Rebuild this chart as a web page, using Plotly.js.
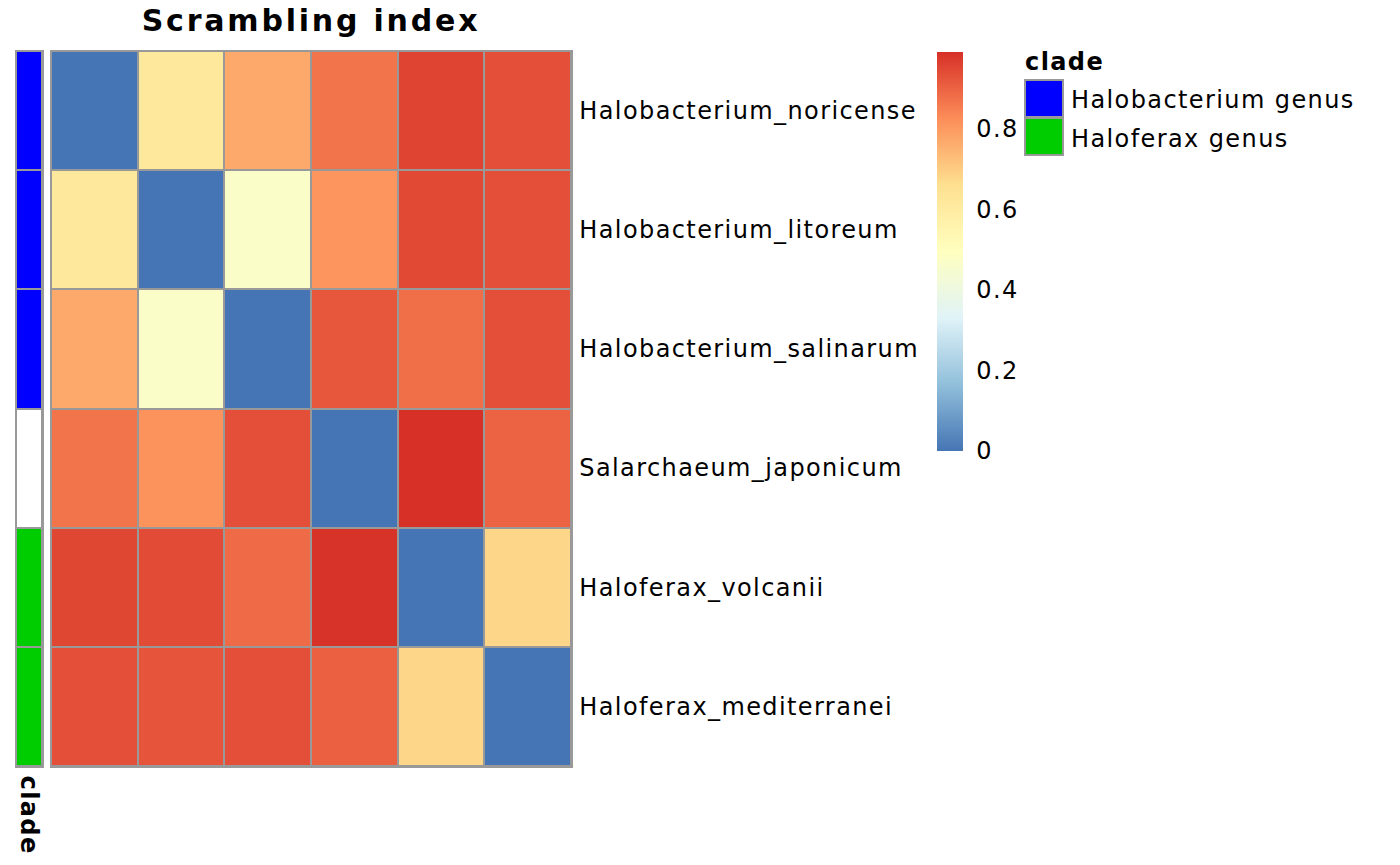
<!DOCTYPE html>
<html>
<head>
<meta charset="utf-8">
<script src="https://cdn.plot.ly/plotly-3.0.1.min.js"></script>
<style>
html,body{margin:0;padding:0;background:#fff;}
#chart{width:1400px;height:865px;}
svg text{letter-spacing:1.4px;}
svg text.gtitle{letter-spacing:2.8px;}
</style>
</head>
<body>
<div id="chart"></div>
<script>
// ---- data ----
const species = ["Halobacterium_noricense","Halobacterium_litoreum","Halobacterium_salinarum","Salarchaeum_japonicum","Haloferax_volcanii","Haloferax_mediterranei"];
const colIds = ["c1","c2","c3","c4","c5","c6"];
const rowNoricense    = [0.000, 0.620, 0.770, 0.870, 0.955, 0.935];
const rowLitoreum     = [0.620, 0.000, 0.470, 0.810, 0.945, 0.935];
const rowSalinarum    = [0.770, 0.470, 0.000, 0.920, 0.880, 0.935];
const rowJaponicum    = [0.870, 0.815, 0.935, 0.000, 0.990, 0.900];
const rowVolcanii     = [0.950, 0.940, 0.885, 0.985, 0.000, 0.680];
const rowMediterranei = [0.935, 0.925, 0.935, 0.905, 0.680, 0.000];
const cladeOfRow = ["Halobacterium genus","Halobacterium genus","Halobacterium genus","","Haloferax genus","Haloferax genus"];
const cladeNames = ["Halobacterium genus","Haloferax genus"];
const cladeColors = ["#0000FF","#00CD00"];
const colorTicks = [0,0.2,0.4,0.6,0.8];
const colorTickText = ["0","0.2","0.4","0.6","0.8"];

const W = 1400, H = 865;
const px = v => v / W;
const py = v => 1 - v / H;
const FONT = "DejaVu Sans";
const GREY = "#999999";
const FS = 24;

const zMain = [rowNoricense,rowLitoreum,rowSalinarum,rowJaponicum,rowVolcanii,rowMediterranei];
const zMax = Math.max(...zMain.flat());

const rdylbu = ["#4575B4","#91BFDB","#E0F3F8","#FFFFBF","#FEE090","#FC8D59","#D73027"];
const cscale = rdylbu.map((c,i)=>[i/(rdylbu.length-1), c]);

// annotation column codes
const cladeCode = cladeOfRow.map(c => c === cladeNames[0] ? 0 : (c === cladeNames[1] ? 2 : 1));
const annScale = [[0,cladeColors[0]],[0.3333,cladeColors[0]],[0.3333,"#FFFFFF"],[0.6667,"#FFFFFF"],[0.6667,cladeColors[1]],[1,cladeColors[1]]];

const traces = [
  {
    type: "heatmap",
    x: colIds, y: species, z: zMain,
    zmin: 0, zmax: zMax,
    colorscale: cscale,
    xgap: 2, ygap: 2,
    hoverinfo: "x+y+z",
    colorbar: {
      x: px(937), xanchor: "left", y: py(52), yanchor: "top",
      len: 399, lenmode: "pixels", thickness: 26, thicknessmode: "pixels",
      outlinewidth: 0, xpad: 0, ypad: 0,
      tickvals: colorTicks, ticktext: colorTickText,
      ticks: "outside", ticklen: 9, tickcolor: "rgba(0,0,0,0)",
      tickfont: {family: FONT, size: FS, color: "#000"}
    }
  },
  {
    type: "heatmap",
    x: ["clade"], y: species, z: cladeCode.map(v=>[v]),
    zmin: 0, zmax: 2,
    colorscale: annScale, showscale: false,
    xgap: 2, ygap: 2,
    xaxis: "x2", yaxis: "y2",
    hoverinfo: "y"
  }
];

const shapes = [], annotations = [];
// legend
annotations.push({xref:"paper", yref:"paper", x:px(1023), y:py(62), xanchor:"left", yanchor:"middle",
  text:"<b>clade</b>", showarrow:false, font:{family:FONT, size:FS, color:"#000"}});
cladeNames.forEach((name,i)=>{
  const top = 80 + i*38;
  shapes.push({type:"rect", xref:"paper", yref:"paper", x0:px(1025), x1:px(1063), y0:py(top), y1:py(top+37),
    fillcolor:cladeColors[i], line:{color:GREY, width:2}});
  annotations.push({xref:"paper", yref:"paper", x:px(1069), y:py(top+20.5), xanchor:"left", yanchor:"middle",
    text:name, showarrow:false, font:{family:FONT, size:FS, color:"#000"}});
});
// clade axis label
annotations.push({xref:"paper", yref:"paper", x:px(29), y:py(774), xanchor:"center", yanchor:"top",
  text:"<b>clade</b>", textangle:90, showarrow:false, font:{family:FONT, size:FS, color:"#000"}});

const layout = {
  width: W, height: H,
  margin: {l:0, r:0, t:0, b:0},
  paper_bgcolor: "#fff",
  plot_bgcolor: GREY,
  showlegend: false,
  title: {text:"<b>Scrambling index</b>", x: px(311), xanchor:"center", y: py(20), yanchor:"middle",
    font:{family:FONT, size:30, color:"#000"}},
  xaxis: {domain:[px(51), px(571)], showticklabels:false, ticks:"", showgrid:false, zeroline:false,
    showline:true, mirror:true, linecolor:GREY, linewidth:1.5, fixedrange:true},
  yaxis: {domain:[py(766), py(51)], autorange:"reversed", side:"right", ticks:"", showgrid:false, zeroline:false,
    showline:true, mirror:true, linecolor:GREY, linewidth:1.5, ticklabelstandoff: 2,
    tickfont:{family:FONT, size:FS, color:"#000"}, fixedrange:true},
  xaxis2: {domain:[px(16), px(42)], anchor:"y2", showticklabels:false, ticks:"", showgrid:false, zeroline:false,
    showline:true, mirror:true, linecolor:GREY, linewidth:1.5, fixedrange:true},
  yaxis2: {domain:[py(766), py(51)], anchor:"x2", autorange:"reversed", showticklabels:false, ticks:"", showgrid:false, zeroline:false,
    showline:true, mirror:true, linecolor:GREY, linewidth:1.5, fixedrange:true},
  shapes, annotations,
  font: {family: FONT}
};

Plotly.newPlot("chart", traces, layout, {displayModeBar:false, staticPlot:true});
</script>
</body>
</html>
